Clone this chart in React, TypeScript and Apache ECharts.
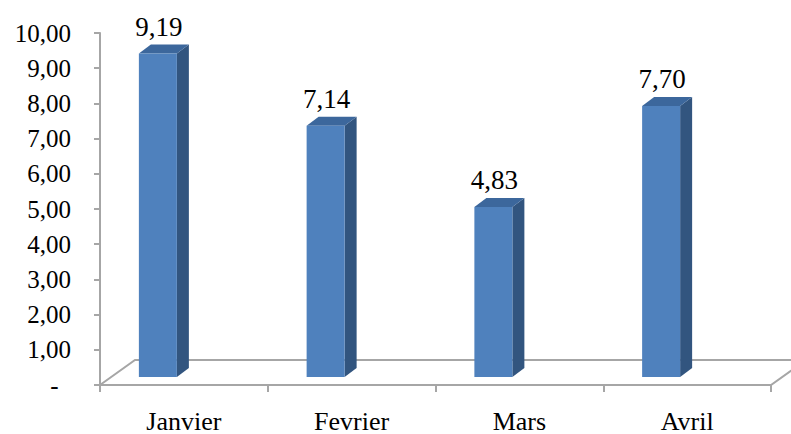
import React, { useEffect, useRef } from "react";
import * as echarts from "echarts";

const categories = ["Janvier", "Fevrier", "Mars", "Avril"];
const values = [9.19, 7.14, 4.83, 7.7];
const yTicks = [0, 1, 2, 3, 4, 5, 6, 7, 8, 9, 10];

const fmt = (v: number) => (v === 0 ? "-  " : v.toFixed(2).replace(".", ","));

export default function App() {
  const ref = useRef<HTMLDivElement>(null);
  useEffect(() => {
    if (!ref.current) return;
    const chart = echarts.init(ref.current, undefined, { renderer: "svg" });
    const font = "Liberation Serif";
    const gray = "#A6A6A6";
    const option: any = {
      animation: false,
      backgroundColor: "#ffffff",
      textStyle: { fontFamily: font },
      grid: { left: 100, right: 20, top: 33, bottom: 48, containLabel: false },
      xAxis: {
        type: "category",
        data: categories,
        boundaryGap: true,
        axisLine: { show: false },
        axisTick: { show: true, length: 7, lineStyle: { color: gray, width: 2 }, alignWithLabel: false },
        axisLabel: { fontFamily: font, fontSize: 26, color: "#000", margin: 23 },
        splitLine: { show: false },
      },
      yAxis: {
        type: "value",
        min: yTicks[0],
        max: yTicks[yTicks.length - 1],
        interval: 1,
        axisLine: { show: true, lineStyle: { color: gray, width: 2 } },
        axisTick: { show: true, length: 6, lineStyle: { color: gray, width: 2 } },
        axisLabel: { fontFamily: font, fontSize: 25, color: "#000", margin: 29, formatter: fmt },
        splitLine: { show: false },
      },
      series: [
        {
          type: "custom",
          z: 1,
          data: [[0, 0]],
          renderItem: (params: any, api: any) => {
            const n = categories.length;
            const p0 = api.coord([0, 0]);
            const bw = api.size([1, 0])[0];
            const left = p0[0] - bw / 2;
            const right = left + bw * n;
            const y = p0[1];
            const dx = 35;
            const dy = 25;
            return {
              type: "group",
              children: [
                {
                  type: "polygon",
                  shape: { points: [[left, y], [left + dx, y - dy], [right + dx, y - dy], [right, y]] },
                  style: { fill: "#fff", stroke: gray, lineWidth: 2 },
                },
              ],
            };
          },
        },
        {
          type: "custom",
          z: 2,
          data: values.map((v, i) => [i, v]),
          renderItem: (params: any, api: any) => {
            const idx = api.value(0);
            const val = api.value(1);
            const base = api.coord([idx, 0]);
            const top = api.coord([idx, val]);
            const shift = 8;
            const w = 38;
            const ddx = 12;
            const ddy = 9;
            const x0 = base[0] - 45;
            const yb = base[1] - shift;
            const yt = top[1] - shift;
            return {
              type: "group",
              children: [
                {
                  type: "polygon",
                  shape: { points: [[x0 + w, yt], [x0 + w + ddx, yt - ddy], [x0 + w + ddx, yb - ddy], [x0 + w, yb]] },
                  style: { fill: "#32557F" },
                },
                {
                  type: "polygon",
                  shape: { points: [[x0, yt], [x0 + ddx, yt - ddy], [x0 + w + ddx, yt - ddy], [x0 + w, yt]] },
                  style: { fill: "#3C679C" },
                },
                {
                  type: "rect",
                  shape: { x: x0, y: yt, width: w, height: yb - yt },
                  style: { fill: "#4F81BD" },
                },
                {
                  type: "text",
                  style: {
                    x: x0 + w / 2 + 1,
                    y: yt - ddy - 4,
                    text: fmt(val),
                    fill: "#000",
                    fontFamily: font,
                    fontSize: 27,
                    align: "center",
                    verticalAlign: "bottom",
                  },
                },
              ],
            };
          },
        },
      ],
    };
    chart.setOption(option);
    return () => chart.dispose();
  }, []);
  return (
    <div
      ref={ref}
      style={{ position: "fixed", left: 0, top: 0, width: 791, height: 434 }}
    />
  );
}
